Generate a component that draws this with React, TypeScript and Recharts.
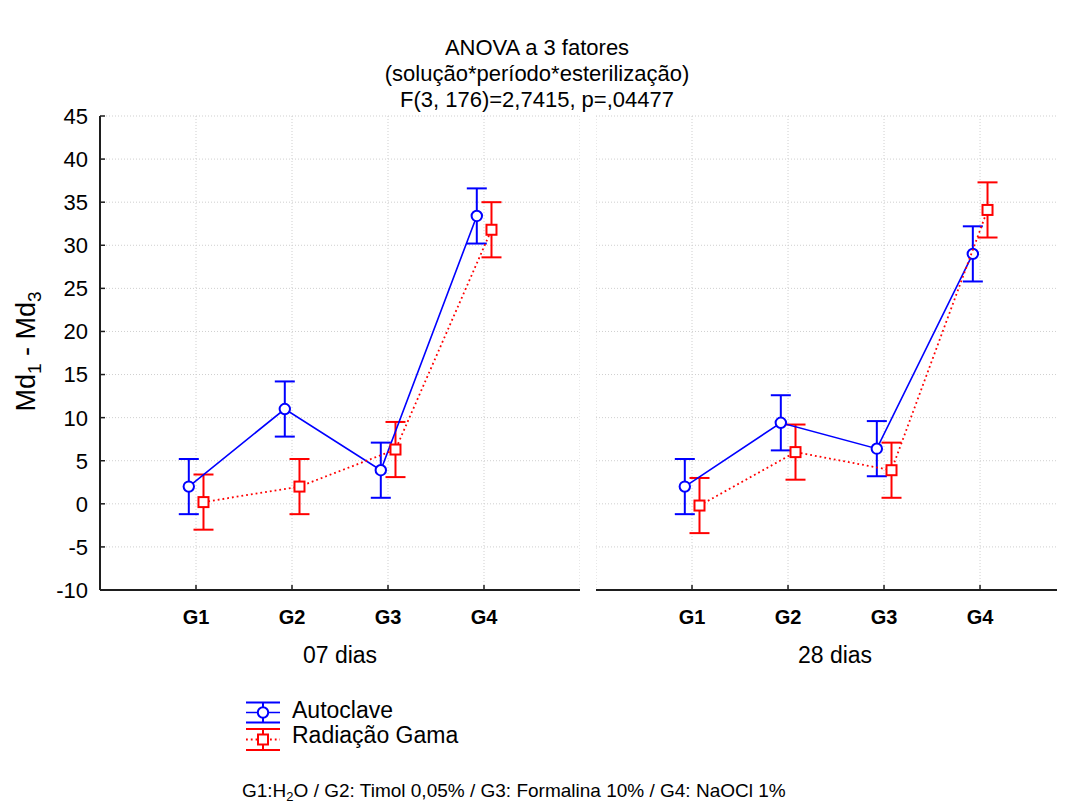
import { ScatterChart, Scatter, XAxis, YAxis, CartesianGrid, ErrorBar } from 'recharts';

const groups = ['G1', 'G2', 'G3', 'G4'];
const yTicks = [-10, -5, 0, 5, 10, 15, 20, 25, 30, 35, 40, 45];
const autoclave07 = [2.0, 11.0, 3.9, 33.4];
const gama07 = [0.2, 2.0, 6.3, 31.8];
const autoclave28 = [2.0, 9.4, 6.4, 29.0];
const gama28 = [-0.2, 6.0, 3.9, 34.1];
const halfCI = [3.2, 3.2, 3.2, 3.2];

const FONT = '"Liberation Sans", Arial, sans-serif';
const BLUE = '#0000ff';
const RED = '#ff0000';
const FRAME = '#1e1e1e';

// slight horizontal dodge so the two series don't sit on top of each other
const toPoints = (vals: number[], shift: number) =>
  vals.map((y, i) => ({ x: i + 1 + shift, y, err: halfCI[i] }));

const Circle = (p: any) => (
  <circle cx={p.cx} cy={p.cy} r={5.2} fill="#fff" stroke={BLUE} strokeWidth={2} />
);
const Square = (p: any) => (
  <rect x={p.cx - 5} y={p.cy - 5} width={10} height={10} fill="#fff" stroke={RED} strokeWidth={2} />
);

const LeftTick = (showText: boolean) => (p: any) => (
  <g>
    <line x1={p.x} x2={p.x + 5} y1={p.y} y2={p.y} stroke={FRAME} strokeWidth={1.5} />
    {showText && (
      <text x={p.x - 12} y={p.y} dy="0.36em" textAnchor="end" fontSize={22} fontFamily={FONT} fill="#000">
        {p.payload.value}
      </text>
    )}
  </g>
);
const RightTick = (p: any) => (
  <line x1={p.x - 5} x2={p.x} y1={p.y} y2={p.y} stroke={FRAME} strokeWidth={1.5} />
);
const TopTick = (p: any) => (
  <line x1={p.x} x2={p.x} y1={p.y} y2={p.y + 5} stroke={FRAME} strokeWidth={1.5} />
);
const BottomTick = (p: any) => (
  <g>
    <line x1={p.x} x2={p.x} y1={p.y} y2={p.y - 5} stroke={FRAME} strokeWidth={1.5} />
    <text x={p.x} y={p.y + 34} textAnchor="middle" fontSize={20} fontWeight="bold" fontFamily={FONT} fill="#000">
      {groups[p.payload.value - 1]}
    </text>
  </g>
);

type PanelProps = {
  auto: number[];
  gama: number[];
  width: number;
  axisWidth: number;
  xMax: number;
  showLabels: boolean;
  showRight: boolean;
};

function Panel({ auto, gama, width, axisWidth, xMax, showLabels, showRight }: PanelProps) {
  const axisLine = { stroke: FRAME, strokeWidth: 2 };
  return (
    <ScatterChart width={width} height={622} margin={{ top: 108, right: 0, bottom: 0, left: 0 }}>
      <CartesianGrid stroke="#cfcfcf" strokeDasharray="1 2" />
      <XAxis
        type="number"
        dataKey="x"
        domain={[0, xMax]}
        ticks={[1, 2, 3, 4]}
        allowDataOverflow
        interval={0}
        height={40}
        tickSize={0}
        tickMargin={0}
        tickLine={false}
        axisLine={axisLine}
        tick={BottomTick}
      />
      <XAxis
        xAxisId="top"
        orientation="top"
        type="number"
        domain={[0, xMax]}
        ticks={[1, 2, 3, 4]}
        allowDataOverflow
        interval={0}
        height={0}
        tickSize={0}
        tickMargin={0}
        tickLine={false}
        axisLine={axisLine}
        tick={TopTick}
      />
      <YAxis
        type="number"
        dataKey="y"
        domain={[-10, 45]}
        ticks={yTicks}
        allowDataOverflow
        interval={0}
        width={axisWidth}
        tickSize={0}
        tickMargin={0}
        tickLine={false}
        axisLine={axisLine}
        tick={LeftTick(showLabels)}
      />
      {showRight && (
        <YAxis
          yAxisId="right"
          orientation="right"
          type="number"
          domain={[-10, 45]}
          ticks={yTicks}
          allowDataOverflow
          interval={0}
          width={0}
          tickSize={0}
          tickMargin={0}
          tickLine={false}
          axisLine={axisLine}
          tick={RightTick}
        />
      )}
      <Scatter
        data={toPoints(auto, -0.075)}
        line={{ stroke: BLUE, strokeWidth: 1.6 }}
        lineType="joint"
        shape={Circle}
        isAnimationActive={false}
      >
        <ErrorBar dataKey="err" direction="y" width={10} stroke={BLUE} strokeWidth={2} />
      </Scatter>
      <Scatter
        data={toPoints(gama, 0.078)}
        line={{ stroke: RED, strokeWidth: 1.8, strokeDasharray: '1.8 3' }}
        lineType="joint"
        shape={Square}
        isAnimationActive={false}
      >
        <ErrorBar dataKey="err" direction="y" width={10} stroke={RED} strokeWidth={2} />
      </Scatter>
    </ScatterChart>
  );
}

export default function App() {
  return (
    <div style={{ position: 'relative', width: 1057, height: 795, fontFamily: FONT }}>
      <div style={{ position: 'absolute', left: 0, top: 0 }}>
        <Panel auto={autoclave07} gama={gama07} width={572} axisWidth={92} xMax={5} showLabels showRight />
      </div>
      <div style={{ position: 'absolute', left: 588, top: 0 }}>
        <Panel auto={autoclave28} gama={gama28} width={469} axisWidth={0} xMax={4.885} showLabels={false} showRight={false} />
      </div>
      <svg
        width={1057}
        height={795}
        style={{ position: 'absolute', left: 0, top: 0, pointerEvents: 'none' }}
        fontFamily={FONT}
      >
        <g textAnchor="middle" fontSize={22} fill="#000">
          <text x={529} y={47}>ANOVA a 3 fatores</text>
          <text x={529} y={73}>(solução*período*esterilização)</text>
          <text x={529} y={99}>F(3, 176)=2,7415, p=,04477</text>
        </g>
        <g textAnchor="middle" fontSize={23} fill="#000">
          <text x={332} y={655}>07 dias</text>
          <text x={827} y={655}>28 dias</text>
        </g>
        <text transform="translate(27,343.5) rotate(-90)" textAnchor="middle" fontSize={27} fill="#000">
          Md<tspan fontSize={19} dy={6}>1</tspan>
          <tspan dy={-6}> - Md</tspan>
          <tspan fontSize={19} dy={6}>3</tspan>
        </text>
        {/* legend */}
        <g stroke={BLUE} strokeWidth={2} fill="none">
          <line x1={238} x2={272} y1={694.5} y2={694.5} />
          <line x1={238} x2={272} y1={714.5} y2={714.5} />
          <line x1={255} x2={255} y1={694.5} y2={714.5} />
          <line x1={238} x2={272} y1={704.5} y2={704.5} strokeWidth={1.6} />
          <circle cx={255} cy={704.5} r={5.2} fill="#fff" />
        </g>
        <g stroke={RED} strokeWidth={2} fill="none">
          <line x1={238} x2={272} y1={721} y2={721} />
          <line x1={238} x2={272} y1={742} y2={742} />
          <line x1={255} x2={255} y1={721} y2={742} />
          <line x1={238} x2={272} y1={731.5} y2={731.5} strokeWidth={1.8} strokeDasharray="1.8 3" />
          <rect x={250} y={726.5} width={10} height={10} fill="#fff" />
        </g>
        <text x={284} y={710} fontSize={23} fill="#000">Autoclave</text>
        <text x={284} y={735} fontSize={23} fill="#000">Radiação Gama</text>
        <text x={234} y={789} fontSize={19} fill="#000">
          G1:H<tspan fontSize={13} dy={4}>2</tspan>
          <tspan dy={-4}>O / G2: Timol 0,05% / G3: Formalina 10% / G4: NaOCl 1%</tspan>
        </text>
      </svg>
    </div>
  );
}
